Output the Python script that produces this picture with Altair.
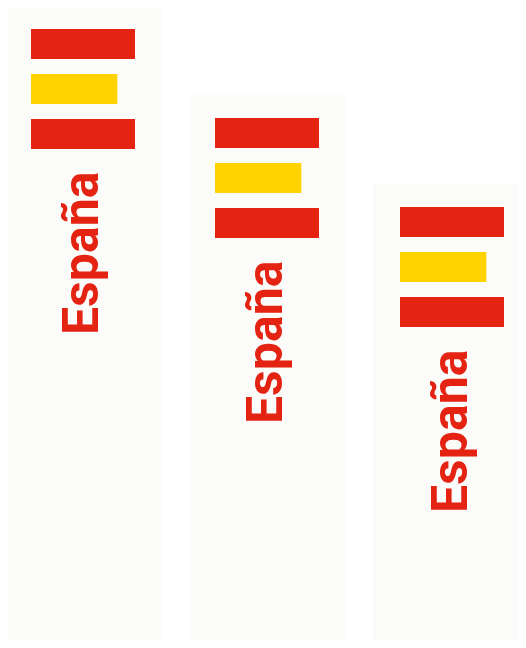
import altair as alt
import pandas as pd

labels = ["España", "España", "España"]
stripes = ["franja 1", "franja 2", "franja 3"]
values = [100, 83, 100]
stripe_colors = ["#E42313", "#FFD300", "#E42313"]

PAGE = 8
panel_boxes = [(5, 162, 6), (190, 346, 95), (373, 518, 184)]
bar_left = [31, 215, 400]
bar_top = [29, 118, 207]
BOTTOM = 640
BAR_LEN = 104
BLOCK = 120
PANEL_BG = "#FBFBF9"

layers = []
for i, label in enumerate(labels):
    left, right, top = panel_boxes[i]
    df = pd.DataFrame({"stripe": stripes, "value": values, "color": stripe_colors})
    one = pd.DataFrame({"label": [label]})

    bg = alt.Chart(one).mark_rect(color=PANEL_BG).encode(
        x=alt.value(max(left - PAGE, 0)),
        x2=alt.value(right - PAGE),
        y=alt.value(max(top - PAGE, 0)),
        y2=alt.value(BOTTOM - PAGE),
    )

    x0 = bar_left[i] - PAGE
    y0 = bar_top[i] - PAGE
    bars = alt.Chart(df).mark_bar(cornerRadius=0, strokeWidth=0).encode(
        x=alt.X("value:Q", axis=None,
                scale=alt.Scale(domain=[0, 100], range=[x0, x0 + BAR_LEN], zero=True, nice=False)),
        y=alt.Y("stripe:N", axis=None, sort=stripes,
                scale=alt.Scale(domain=stripes, range=[y0, y0 + BLOCK],
                                paddingInner=1 / 3, paddingOuter=0)),
        color=alt.Color("color:N", scale=None, legend=None),
    )

    text = alt.Chart(one).mark_text(
        angle=270, align="left", baseline="alphabetic",
        font="Roboto", fontWeight="bold", fontSize=50, color="#E42313",
    ).encode(
        x=alt.value(x0 + 67),
        y=alt.value(y0 + 306),
        text="label:N",
    )
    layers += [bg, bars, text]

chart = (
    alt.layer(*layers)
    .resolve_scale(x="independent", y="independent", color="independent")
    .properties(
        width=510, height=632, padding=0,
        autosize=alt.AutoSizeParams(type="none"),
        background="white",
    )
    .configure_view(strokeWidth=0)
)

chart.save("out.html", embed_options={"renderer": "svg", "actions": False})
